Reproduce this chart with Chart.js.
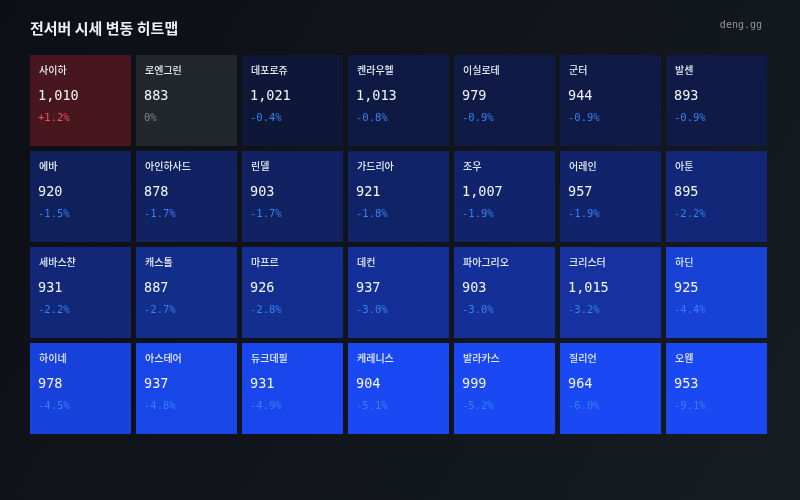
<!DOCTYPE html>
<html><head><meta charset="utf-8">
<script src="https://cdn.jsdelivr.net/npm/chart.js@4"></script>
<style>html,body{margin:0;padding:0;background:#0d1117;}#wrap{width:800px;height:500px;position:relative;}</style>
</head><body><div id="wrap"><canvas id="c" width="800" height="500"></canvas></div>
<script>
const titleText = '전서버 시세 변동 히트맵';
const brandText = 'deng.gg';
const servers = ['사이하','로엔그린','데포로쥬','켄라우헬','이실로테','군터','발센',
  '에바','아인하사드','린델','가드리아','조우','어레인','아툰',
  '세바스챤','캐스톨','마프르','데컨','파아그리오','크리스터','하딘',
  '하이네','아스테어','듀크데필','케레니스','발라카스','질리언','오웬'];
const prices = [1010,883,1021,1013,979,944,893,
  920,878,903,921,1007,957,895,
  931,887,926,937,903,1015,925,
  978,937,931,904,999,964,953];
const changes = [1.2,0,-0.4,-0.8,-0.9,-0.9,-0.9,
  -1.5,-1.7,-1.7,-1.8,-1.9,-1.9,-2.2,
  -2.2,-2.7,-2.8,-3.0,-3.0,-3.2,-4.4,
  -4.5,-4.8,-4.9,-5.1,-5.2,-6.0,-9.1];
const columns = ['1','2','3','4','5','6','7'];

const NCOL = columns.length;
const NROW = Math.ceil(servers.length / NCOL);
const HALF_GAP = 2.5/96;

function mix(a,b,t){return 'rgb('+a.map((v,i)=>Math.round(v+(b[i]-v)*t)).join(',')+')';}
function cellColor(c){
  if (c === 0) return '#22272e';
  if (c > 0) { const t = Math.min(c/5,1); return mix([30,20,28],[200,30,35],t); }
  const t = Math.pow(Math.min(-c/5,1),1.2);
  return mix([13,20,45],[26,72,242],t);
}
function fmtPrice(v){return v.toLocaleString('en-US');}
function fmtChange(c){ if(c===0) return '0%'; return (c>0?'+':'-')+Math.abs(c).toFixed(1)+'%'; }
function changeColor(c){ return c>0?'#f2545b':(c===0?'#7d8590':'#3582f2'); }

const datasets = [];
for (let r=0;r<NROW;r++){
  const data=[], colors=[];
  for (let k=0;k<NCOL;k++){
    const i=r*NCOL+k;
    if(i<servers.length){ data.push([r+HALF_GAP, r+1-HALF_GAP]); colors.push(cellColor(changes[i])); }
    else { data.push(null); colors.push('transparent'); }
  }
  datasets.push({data, backgroundColor:colors, borderWidth:0, borderSkipped:false, grouped:false,
    barPercentage:101/106, categoryPercentage:1});
}

const bgPlugin = {
  id:'bg',
  beforeDraw(chart){
    const ctx=chart.ctx; const w=chart.width,h=chart.height;
    const g=ctx.createLinearGradient(0,0,w,h);
    g.addColorStop(0,'#0c0f15'); g.addColorStop(1,'#171b22');
    ctx.save(); ctx.fillStyle=g; ctx.fillRect(0,0,w,h);
    ctx.fillStyle='#eef2f6'; ctx.font='bold 15px "Noto Sans CJK KR", "Noto Sans", sans-serif';
    ctx.textBaseline='middle'; ctx.textAlign='left';
    ctx.fillText(titleText, 30, 28);
    ctx.fillStyle='#8b949e'; ctx.font='10px "DejaVu Sans Mono", monospace'; ctx.textAlign='right';
    ctx.fillText(brandText, 762, 25);
    ctx.restore();
  },
  afterDatasetsDraw(chart){
    const ctx=chart.ctx;
    ctx.save(); ctx.textBaseline='middle'; ctx.textAlign='left';
    chart.data.datasets.forEach((ds,r)=>{
      const meta=chart.getDatasetMeta(r);
      meta.data.forEach((el,k)=>{
        const i=r*NCOL+k; if(i>=servers.length) return;
        const left=el.x-el.width/2; const top=Math.min(el.y,el.base);
        ctx.fillStyle='#e6edf3'; ctx.font='500 10px "Noto Sans CJK KR", sans-serif';
        ctx.fillText(servers[i], left+9, top+15.5);
        ctx.fillStyle='#f3f6fa'; ctx.font='13.5px "DejaVu Sans Mono", monospace';
        ctx.fillText(fmtPrice(prices[i]), left+8, top+41.5);
        ctx.fillStyle=changeColor(changes[i]); ctx.font='10.5px "DejaVu Sans Mono", monospace';
        ctx.fillText(fmtChange(changes[i]), left+8, top+63.5);
      });
    });
    ctx.restore();
  }
};

new Chart(document.getElementById('c'),{
  type:'bar',
  data:{labels:columns, datasets},
  options:{
    responsive:false, animation:false,
    layout:{padding:{left:27.5,right:30.5,top:52.5,bottom:63.5}},
    scales:{
      x:{display:false, offset:true},
      y:{display:false, min:0, max:NROW, reverse:true}
    },
    plugins:{legend:{display:false}, tooltip:{enabled:false}, title:{display:false}}
  },
  plugins:[bgPlugin]
});
</script></body></html>
